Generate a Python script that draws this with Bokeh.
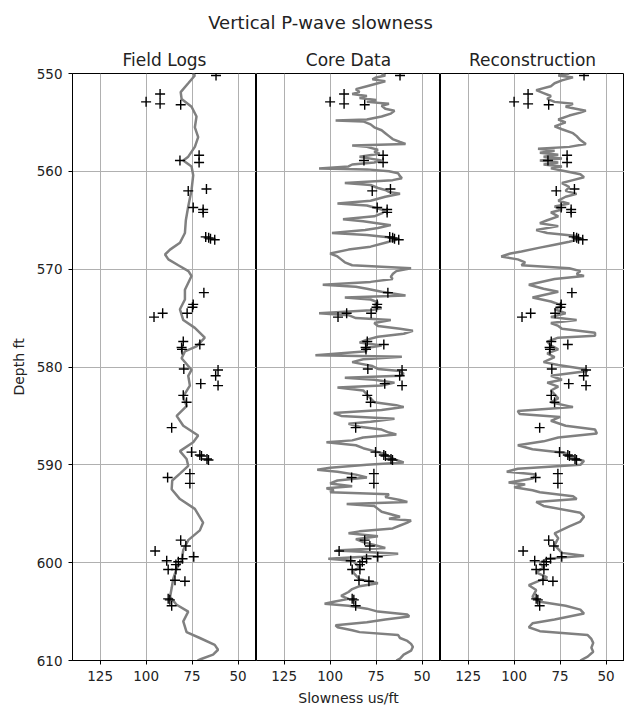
from bokeh.plotting import figure
from bokeh.models import Range1d, FixedTicker
from bokeh.layouts import row, column
from bokeh.core.properties import value
from bokeh.embed import file_html
from bokeh.resources import INLINE

FONT = "DejaVu Sans"

main_title = "Vertical P-wave slowness"
panel_titles = ["Field Logs", "Core Data", "Reconstruction"]
x_label = "Slowness us/ft"
y_label = "Depth ft"
x_ticks = [125, 100, 75, 50]
y_ticks = [550, 560, 570, 580, 590, 600, 610]

# Field log curve (smooth)
depth_field = [550.0, 550.2, 551.0, 551.9, 552.6, 553.4, 554.4, 555.5, 556.5, 557.5,
               558.5, 558.9, 559.5, 560.4, 561.9, 563.6, 565.0, 566.3, 567.3, 568.0,
               568.5, 569.0, 569.6, 570.2, 570.7, 572.1, 573.1, 574.1, 575.2, 576.0,
               577.0, 577.9, 578.4, 579.1, 579.9, 580.3, 580.9, 581.9, 583.0, 584.0,
               585.0, 586.0, 587.0, 587.7, 588.6, 589.4, 590.1, 590.9, 591.6, 592.5,
               593.5, 594.5, 595.9, 596.7, 597.7, 598.7, 599.8, 600.6, 601.6, 602.6,
               603.5, 604.3, 605.0, 606.0, 607.1, 607.7, 608.4, 608.9, 609.4, 609.9, 610.0]
slow_field = [74.5, 73.5, 77.1, 81.2, 80.7, 75.3, 72.6, 73.5, 71.7, 73.5,
              77.1, 79.8, 75.3, 74.4, 75.3, 77.1, 78.4, 78.9, 81.6, 87.0,
              89.7, 87.9, 82.5, 77.0, 75.3, 78.9, 78.9, 81.6, 79.8, 73.5,
              68.1, 72.6, 78.9, 80.7, 77.1, 75.3, 77.1, 76.2, 79.8, 78.0,
              83.4, 79.8, 71.7, 74.4, 81.6, 78.0, 77.1, 81.6, 85.8, 86.1,
              81.6, 73.5, 69.0, 70.8, 77.1, 79.8, 80.7, 83.4, 85.2, 86.1,
              87.0, 83.4, 77.1, 79.8, 78.0, 70.8, 62.7, 60.9, 63.6, 70.8, 72.0]

# Core data trace
depth_core = [550.0, 550.2, 550.4, 550.6, 550.8, 551.0, 551.3, 551.6, 551.9, 552.1,
              552.3, 552.5, 552.7, 552.9, 553.1, 553.3, 553.6, 553.8, 554.1, 554.4,
              554.7, 554.8, 554.9, 555.2, 555.5, 555.8, 556.1, 556.4, 556.7, 557.0,
              557.2, 557.35, 557.5, 557.8, 558.0, 558.2, 558.5, 558.7, 558.9, 559.1,
              559.3, 559.5, 559.7, 559.8, 560.0, 560.2, 560.5, 560.7, 560.9, 561.2,
              561.4, 561.7, 561.9, 562.1, 562.3, 562.6, 563.0, 563.3, 563.5, 563.8,
              564.0, 564.3, 564.6, 564.9, 565.1, 565.5, 565.8, 566.0, 566.3, 566.5,
              566.8, 567.0, 567.3, 567.7, 568.0, 568.4, 568.7, 569.0, 569.3, 569.6,
              569.9, 570.2, 570.5, 570.8,
              571.0, 571.3, 571.6, 571.8, 572.0, 572.3, 572.7, 572.9, 573.1, 573.4,
              573.7, 574.0, 574.2, 574.5, 574.7, 575.0, 575.2, 575.5, 575.8, 576.1,
              576.3, 576.6, 576.9, 577.2, 577.5, 577.8, 578.1, 578.4, 578.8, 578.95,
              579.2, 579.5, 579.9, 580.2, 580.4, 580.7, 580.9, 581.1, 581.3, 581.6,
              581.9, 582.1, 582.4, 582.8, 583.2, 583.6, 583.9, 584.1, 584.4, 584.7,
              585.0, 585.3, 585.6, 585.8, 586.1, 586.4, 586.7, 586.9, 587.2, 587.5,
              587.7, 588.0, 588.3, 588.6, 588.9, 589.2, 589.5, 589.75, 590.0, 590.3,
              590.5, 590.7, 591.0, 591.3, 591.6, 591.9,
              592.2, 592.4, 592.6, 592.8, 593.0, 593.3, 593.6, 593.8, 594.0, 594.2,
              594.5, 594.8, 595.1, 595.3, 595.5, 595.7, 595.9, 596.2, 596.5, 596.8,
              597.0, 597.3, 597.6, 597.9, 598.2, 598.5, 598.75, 598.9, 599.1, 599.4,
              599.6, 599.8, 600.1, 600.5, 600.9, 601.3, 601.7, 602.1, 602.4, 602.7,
              603.0, 603.4, 603.7, 604.0, 604.2, 604.4, 604.7, 605.0, 605.3, 605.5,
              605.8, 606.1, 606.4, 606.6, 606.9, 607.1, 607.4, 607.7, 608.0, 608.3,
              608.6, 609.0, 609.4, 609.8, 610.0]
slow_core = [72, 70, 75, 77, 70, 74, 80, 86, 84, 88,
             80, 84, 75, 80, 68, 72, 70, 65, 67, 72,
             80, 97, 82, 78, 76, 72, 70, 68, 66, 62,
             59, 88, 80, 74, 76, 73, 84, 78, 72, 76,
             88, 90, 106, 80, 68, 63, 62, 61, 66, 92,
             78, 74, 70, 68, 62, 70, 78, 96, 80, 74,
             70, 72, 76, 93, 82, 67, 74, 81, 99, 80,
             66, 64, 70, 78, 90, 100, 96, 94, 92, 88,
             56, 64, 66, 67,
             66, 78, 104, 86, 80, 72, 59, 92, 78, 74,
             76, 72, 78, 106, 90, 86, 67, 76, 74, 62,
             55, 60, 74, 80, 84, 72, 82, 80, 108, 61,
             82, 88, 77, 74, 62, 60, 62, 92, 76, 65,
             72, 96, 82, 80, 78, 76, 64, 60, 72, 98,
             94, 65, 78, 90, 84, 72, 68, 64, 82, 88,
             102, 86, 82, 76, 70, 68, 64, 60, 80, 100,
             107, 96, 86, 80, 96, 100,
             88, 102, 98, 100, 68, 70, 62, 58, 91, 76,
             74, 72, 66, 62, 68, 56, 58, 62, 66, 84,
             90, 74, 86, 82, 76, 70, 97, 80, 63, 82,
             101, 88, 86, 84, 88, 86, 84, 74, 84, 88,
             90, 94, 90, 98, 103, 90, 80, 74, 58, 57,
             70, 80, 97, 96, 88, 84, 63, 62, 58, 56,
             55, 56, 60, 62, 64]

# Reconstruction trace
depth_recon = [550.0, 550.2, 550.4, 550.7, 551.0, 551.3, 551.7, 552.0, 552.3, 552.6,
               552.9, 553.1, 553.4, 553.8, 554.0, 554.3, 554.7, 555.0, 555.4, 555.7,
               556.1, 556.4, 556.8, 557.2, 557.5, 557.7, 557.9, 558.1, 558.3, 558.5,
               558.7, 558.9, 559.1, 559.3, 559.5, 559.7, 560.0, 560.3, 560.6, 560.9,
               561.2, 561.6, 562.0, 562.3, 562.6, 563.0, 563.3, 563.6, 563.9, 564.2,
               564.6, 565.0, 565.3, 565.6, 566.0, 566.3, 566.6, 566.9, 567.2, 567.5,
               567.8, 568.2, 568.4, 568.7, 569.0, 569.3, 569.6, 569.9, 570.2, 570.5,
               570.7,
               571.0, 571.6, 572.0, 572.3, 572.9, 573.3, 573.7, 574.1, 574.5, 574.9,
               575.2, 575.5, 575.8, 576.1, 576.5, 576.8, 577.0, 577.4, 577.8, 578.2,
               578.6, 579.0, 579.5, 579.8, 580.2, 580.4, 580.9, 581.3, 581.6, 582.0,
               582.4, 582.8, 583.2, 583.6, 584.1, 584.5, 584.8, 585.1, 585.5, 586.0,
               586.4, 586.8, 587.2, 587.6, 588.0, 588.4, 588.8, 589.2, 589.6, 590.0,
               590.4, 590.7, 591.0, 591.4, 591.8,
               592.0, 592.3, 592.6, 592.8, 593.2, 593.5, 593.8, 594.2, 594.9, 595.3,
               595.8, 596.3, 597.0, 597.5, 598.2, 599.0, 599.3, 599.6, 600.0, 600.5,
               601.0, 601.5, 602.3, 602.8, 603.5, 604.0, 604.4, 604.8, 605.2, 605.8,
               606.2, 606.6, 607.0, 607.4, 607.8, 608.2, 608.7, 609.1, 609.6, 610.0]
slow_recon = [70, 76, 68, 74, 78, 80, 88, 84, 80, 82,
              78, 68, 72, 61, 64, 70, 76, 72, 78, 74,
              68, 66, 64, 61, 70, 87, 78, 86, 76, 84,
              74, 86, 76, 84, 74, 80, 72, 64, 62, 68,
              74, 70, 72, 66, 72, 76, 70, 78, 74, 80,
              76, 82, 86, 76, 88, 82, 66, 64, 70, 78,
              86, 96, 102, 107, 98, 94, 96, 70, 64, 66,
              62,
              78, 92, 84, 76, 90, 80, 74, 78, 72, 80,
              66, 80, 76, 74, 56, 56, 76, 82, 80, 76,
              82, 78, 84, 76, 62, 60, 80, 74, 82, 76,
              80, 78, 76, 80, 68, 98, 97, 75, 80, 72,
              56, 55, 76, 84, 98, 90, 72, 70, 62, 64,
              98, 104, 88, 90, 103,
              94, 100, 90, 86, 68, 66, 88, 84, 64, 62,
              64, 70, 78, 76, 78, 74, 62, 82, 86, 84,
              88, 82, 92, 88, 90, 86, 72, 64, 62, 78,
              90, 92, 86, 60, 58, 57, 58, 57, 60, 64]

# Measured points (crosses), same in every panel
depth_pts = [550.2, 552.1, 552.9, 553.1, 553.2, 558.9, 558.35, 559.1, 562.0, 561.8,
             563.7, 563.9, 564.2, 566.7, 566.8, 566.9, 567.0, 572.4, 573.6, 573.9,
             574.5, 574.5, 574.9, 577.4, 577.7, 578.0, 578.2, 580.2, 580.3, 580.9,
             581.7, 581.9, 582.9, 583.6, 586.2, 588.7, 589.0, 589.1, 589.4, 589.5,
             590.9, 591.3, 591.9, 597.7, 598.3, 598.8, 599.4, 599.6, 599.8, 599.9,
             600.2, 600.7, 600.7, 601.8, 601.9, 603.7, 603.8, 604.4]
slow_pts = [62.0, 92.4, 100.0, 92.4, 81.2, 81.6, 71.2, 71.2, 77.1, 67.2,
            74.4, 69.0, 69.0, 67.6, 66.0, 65.0, 62.7, 68.6, 74.4, 74.8,
            77.7, 91.0, 95.7, 79.8, 70.8, 80.7, 80.5, 79.5, 60.9, 62.2,
            70.3, 60.9, 79.8, 78.0, 86.1, 75.3, 70.8, 69.9, 66.9, 66.1,
            76.2, 88.3, 76.2, 81.2, 78.4, 95.1, 74.1, 80.2, 88.8, 82.5,
            83.8, 88.0, 83.8, 84.3, 78.9, 88.0, 87.1, 86.1]

traces = [(depth_field, slow_field), (depth_core, slow_core), (depth_recon, slow_recon)]

TEXT = "#222222"
y_range = Range1d(610, 550)


def make_panel(i, width, left):
    p = figure(width=width, height=670, x_range=Range1d(140, 40), y_range=y_range,
               toolbar_location=None, output_backend="svg",
               y_axis_location="left" if left else None,
               min_border_top=35, min_border_bottom=46,
               min_border_left=72 if left else 0, min_border_right=0,
               title=panel_titles[i])
    p.title.align = "center"
    p.title.text_font = FONT
    p.title.text_font_size = "17px"
    p.title.text_font_style = "normal"
    p.title.text_color = TEXT
    p.title.standoff = 8
    p.background_fill_color = "white"
    p.border_fill_color = "white"
    p.outline_line_color = "black"
    p.outline_line_width = 1
    p.outline_line_alpha = 1

    p.xgrid.ticker = FixedTicker(ticks=x_ticks)
    p.ygrid.ticker = FixedTicker(ticks=y_ticks)
    p.grid.grid_line_color = "#b0b0b0"
    p.grid.grid_line_width = 1

    for ax in p.axis:
        ax.major_label_text_font = FONT
        ax.major_label_text_font_size = "13.5px"
        ax.major_label_text_color = TEXT
        ax.major_tick_out = 4
        ax.major_tick_in = 0
        ax.minor_tick_out = 0
        ax.minor_tick_in = 0
        ax.axis_line_color = "black"
        ax.major_tick_line_color = "black"
        ax.axis_label_text_font = FONT
        ax.axis_label_text_font_size = "14px"
        ax.axis_label_text_font_style = "normal"
        ax.axis_label_text_color = TEXT
    p.xaxis.ticker = FixedTicker(ticks=x_ticks)
    p.xaxis.major_label_standoff = 6
    if left:
        p.yaxis.ticker = FixedTicker(ticks=y_ticks)
        p.yaxis.axis_label = y_label
        p.yaxis.major_label_standoff = 6
        p.yaxis.axis_label_standoff = 7
    if i == 1:
        p.xaxis.axis_label = x_label
        p.xaxis.axis_label_standoff = 6

    d, s = traces[i]
    p.line(s, d, line_color="#808080", line_width=2.5)
    p.scatter(slow_pts, depth_pts, marker="cross", size=10,
              line_color="black", line_width=1.4)
    return p


header = figure(width=624, height=38, x_range=Range1d(0, 1), y_range=Range1d(0, 1),
                toolbar_location=None, output_backend="svg",
                x_axis_location=None, y_axis_location=None,
                min_border=0)
header.grid.visible = False
header.outline_line_color = None
header.text(x=[0.5], y=[0.43], text=[main_title], x_offset=8,
            text_align="center", text_baseline="middle",
            text_font=value(FONT), text_font_size=value("18px"), text_color=TEXT)

f1 = make_panel(0, 256, True)
f2 = make_panel(1, 184, False)
f3 = make_panel(2, 184, False)

layout = column(header, row(f1, f2, f3, spacing=0), spacing=0)

open("out.html", "w").write(file_html(layout, INLINE))
